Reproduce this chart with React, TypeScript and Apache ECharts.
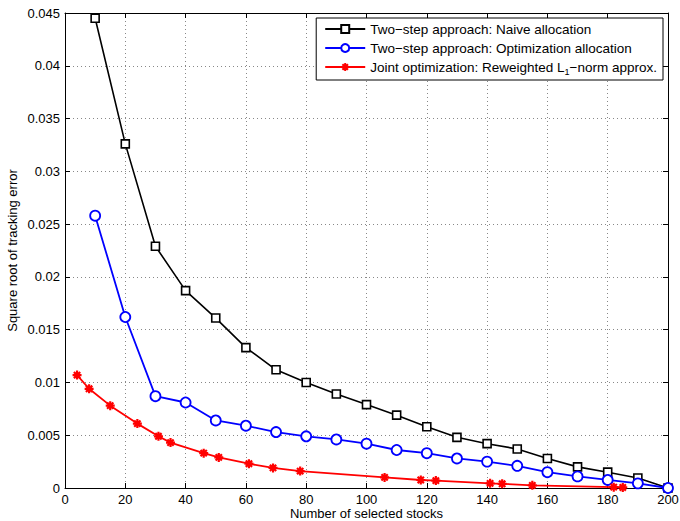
import React, { useEffect, useRef } from "react";
import * as echarts from "echarts";

const xTwoStep = [10, 20, 30, 40, 50, 60, 70, 80, 90, 100, 110, 120, 130, 140, 150, 160, 170, 180, 190, 200];
const naiveValues = [0.0445, 0.0326, 0.0229, 0.0187, 0.0161, 0.0133, 0.0112, 0.01, 0.0089, 0.0079, 0.0069, 0.0058, 0.0048, 0.0042, 0.0037, 0.0028, 0.002, 0.0015, 0.00095, 0];
const optValues = [0.0258, 0.0162, 0.0087, 0.0081, 0.0064, 0.0059, 0.0053, 0.0049, 0.0046, 0.0042, 0.0036, 0.0033, 0.0028, 0.0025, 0.0021, 0.0015, 0.0011, 0.00076, 0.00044, 0];
const xJoint = [4, 8, 15, 24, 31, 35, 46, 51, 61, 69, 78, 106, 118, 123, 141, 145, 155, 182, 185];
const jointValues = [0.0107, 0.0094, 0.0078, 0.0061, 0.0049, 0.0043, 0.0033, 0.0029, 0.0023, 0.0019, 0.0016, 0.001, 0.00076, 0.0007, 0.00044, 0.0004, 0.00025, 0.00008, 0.00005];

const seriesNames = [
  "Two\u2212step approach: Naive allocation",
  "Two\u2212step approach: Optimization allocation",
  "Joint optimization: Reweighted L1\u2212norm approx.",
];

const zip = (xs: number[], ys: number[]) => xs.map((x, i) => [x, ys[i]]);

const asterisk = "path://M5,0 L5,10 M0,5 L10,5 M1.5,1.5 L8.5,8.5 M1.5,8.5 L8.5,1.5";

export default function App() {
  const ref = useRef<HTMLDivElement>(null);
  useEffect(() => {
    if (!ref.current) return;
    document.body.style.margin = "0";
    const chart = echarts.init(ref.current, undefined, { renderer: "svg" });
    const font = "'Liberation Sans', Arial, Helvetica, sans-serif";
    const axisCommon = {
      axisLine: { show: true, onZero: false, lineStyle: { color: "#000", width: 1 } },
      axisTick: { show: true, inside: true, length: 5, lineStyle: { color: "#000" } },
    };
    chart.setOption({
      animation: false,
      textStyle: { fontFamily: font, color: "#000" },
      grid: { left: 65, right: 12, top: 13, bottom: 33, containLabel: false, outerBoundsMode: "none" },
      legend: {
        orient: "vertical",
        right: 17,
        top: 18,
        backgroundColor: "#fff",
        borderColor: "#000",
        borderWidth: 1,
        borderRadius: 0,
        padding: [4, 6, 4, 8],
        itemWidth: 40,
        itemHeight: 10,
        itemGap: 5,
        textStyle: {
          fontFamily: font,
          fontSize: 13.5,
          color: "#000",
          rich: {
            sub: { fontSize: 9, fontFamily: font, color: "#000", padding: [9, 0, 0, 0] },
          },
        },
        formatter: (name: string) =>
          name === seriesNames[2] ? "Joint optimization: Reweighted L{sub|1}\u2212norm approx." : name,
        data: seriesNames,
      },
      xAxis: [
        {
          type: "value",
          min: 0,
          max: 200,
          interval: 20,
          name: "Number of selected stocks",
          nameLocation: "middle",
          nameGap: 19,
          nameMoveOverlap: false,
          nameTextStyle: { fontFamily: font, fontSize: 13, color: "#000" },
          ...axisCommon,
          axisLabel: { fontFamily: font, fontSize: 13, color: "#000", margin: 5 },
          splitLine: { show: true, lineStyle: { color: "#888", type: [1, 3], width: 1 } },
        },
        {
          type: "value",
          position: "top",
          min: 0,
          max: 200,
          interval: 20,
          ...axisCommon,
          axisLabel: { show: false },
          splitLine: { show: false },
        },
      ],
      yAxis: [
        {
          type: "value",
          min: 0,
          max: 0.045,
          interval: 0.005,
          name: "Square root of tracking error",
          nameLocation: "middle",
          nameGap: 46,
          nameMoveOverlap: false,
          nameTextStyle: { fontFamily: font, fontSize: 13, color: "#000" },
          ...axisCommon,
          axisLabel: { fontFamily: font, fontSize: 13, color: "#000", margin: 5 },
          splitLine: { show: true, lineStyle: { color: "#888", type: [1, 3], width: 1 } },
        },
        {
          type: "value",
          position: "right",
          min: 0,
          max: 0.045,
          interval: 0.005,
          ...axisCommon,
          axisLabel: { show: false },
          splitLine: { show: false },
        },
      ],
      series: [
        {
          name: seriesNames[0],
          type: "line",
          data: zip(xTwoStep, naiveValues),
          symbol: "rect",
          symbolSize: 8,
          showAllSymbol: true,
          lineStyle: { color: "#000", width: 1.6 },
          itemStyle: { color: "#fff", borderColor: "#000", borderWidth: 1.6 },
          z: 3,
        },
        {
          name: seriesNames[1],
          type: "line",
          data: zip(xTwoStep, optValues),
          symbol: "circle",
          symbolSize: 10,
          showAllSymbol: true,
          lineStyle: { color: "#0000ff", width: 1.8 },
          itemStyle: { color: "#fff", borderColor: "#0000ff", borderWidth: 1.8 },
          z: 4,
        },
        {
          name: seriesNames[2],
          type: "line",
          data: zip(xJoint, jointValues),
          symbol: asterisk,
          symbolSize: 9,
          showAllSymbol: true,
          lineStyle: { color: "#ff0000", width: 1.8 },
          itemStyle: { color: "#ff0000", borderColor: "#ff0000", borderWidth: 2.2 },
          z: 5,
        },
      ],
    });
    return () => chart.dispose();
  }, []);
  return <div ref={ref} style={{ width: 680, height: 521 }} />;
}
